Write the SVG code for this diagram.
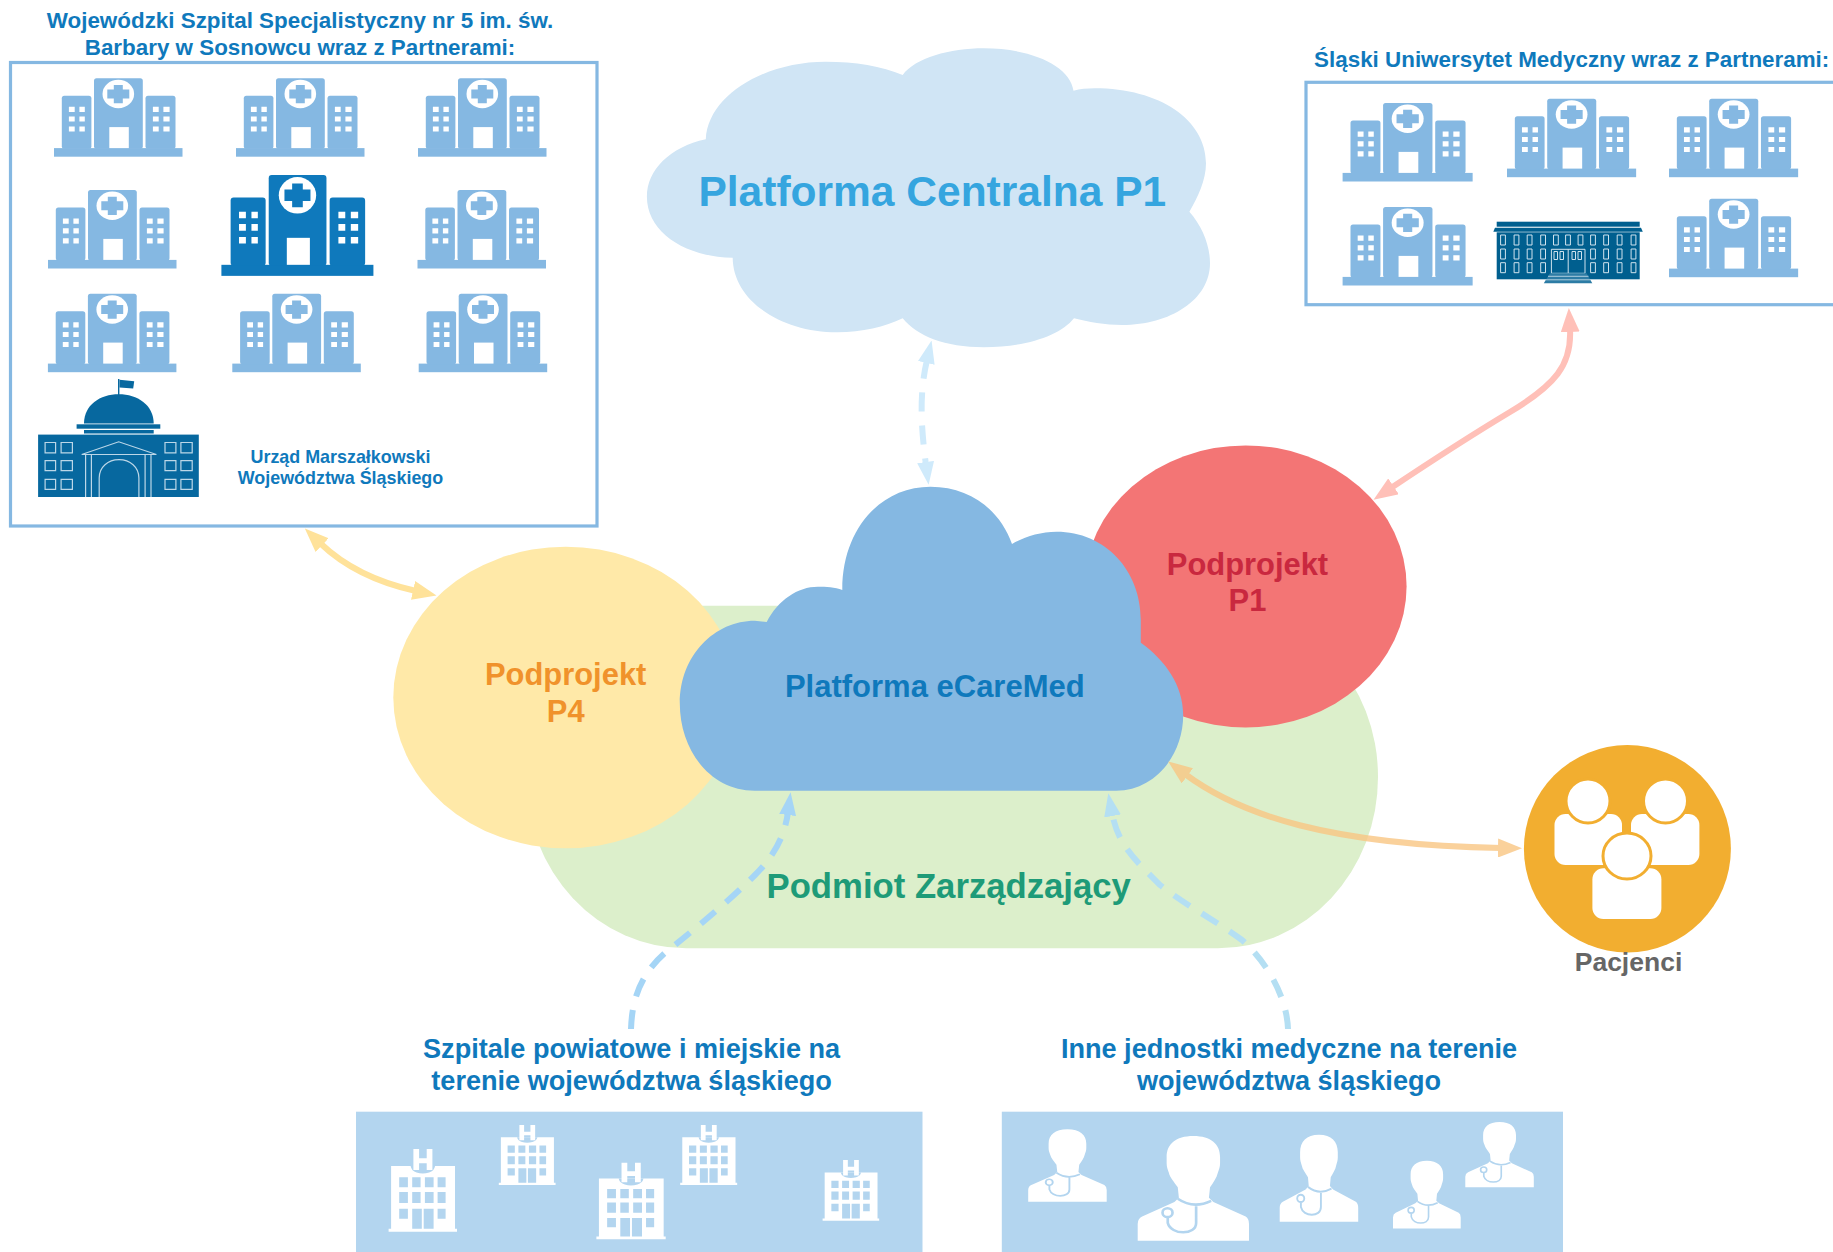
<svg xmlns="http://www.w3.org/2000/svg" width="1833" height="1252" viewBox="0 0 1833 1252">
<style>
text{font-family:"Liberation Sans",Arial,sans-serif;font-weight:700;text-anchor:middle}
.blue{fill:#0f79bc}
.t22{font-size:22.4px}
.t27{font-size:27.1px}
.t30{font-size:30.9px}
.light{color:#85b8e2}
.dark{color:#0f79bc}
.box{fill:#fff;stroke:#85b8e2;stroke-width:3.2}
.panel{fill:#b3d5ef}
.wh{fill:#fff}
.pw{fill:#b3d5ef}
.con{fill:none;stroke-width:6}
.dash{stroke-dasharray:19 14}
.steth{fill:none;stroke:#b3d5ef;stroke-width:2.4}
.trim{fill:none;stroke:#bcd7e8;stroke-width:1.2}
</style>
<defs>
<marker id="mY" markerUnits="userSpaceOnUse" viewBox="0 0 24 19" markerWidth="24" markerHeight="19" refX="3" refY="9.5" orient="auto-start-reverse"><path d="M0 0L24 9.5L0 19Z" fill="#ffe29a"/></marker>
<marker id="mP" markerUnits="userSpaceOnUse" viewBox="0 0 24 19" markerWidth="24" markerHeight="19" refX="3" refY="9.5" orient="auto-start-reverse"><path d="M0 0L24 9.5L0 19Z" fill="#ffc0b8"/></marker>
<marker id="mO" markerUnits="userSpaceOnUse" viewBox="0 0 24 19" markerWidth="24" markerHeight="19" refX="3" refY="9.5" orient="auto-start-reverse"><path d="M0 0L24 9.5L0 19Z" fill="#f9c683"/></marker>
<marker id="mT" markerUnits="userSpaceOnUse" viewBox="0 0 23 17" markerWidth="23" markerHeight="17" refX="3" refY="8.5" orient="auto-start-reverse"><path d="M0 0L23 8.5L0 17Z" fill="#cfeafb"/></marker>
<marker id="mL" markerUnits="userSpaceOnUse" viewBox="0 0 23 17" markerWidth="23" markerHeight="17" refX="3" refY="8.5" orient="auto-start-reverse"><path d="M0 0L23 8.5L0 17Z" fill="#a5d5f6"/></marker>
<marker id="mR" markerUnits="userSpaceOnUse" viewBox="0 0 23 17" markerWidth="23" markerHeight="17" refX="3" refY="8.5" orient="auto-start-reverse"><path d="M0 0L23 8.5L0 17Z" fill="#b4dff3"/></marker>
<g id="hospital">
<g fill="currentColor">
<rect x="0" y="69.9" width="128.5" height="8.6"/>
<rect x="7.8" y="17.6" width="29.6" height="53" rx="2.5"/>
<rect x="40" y="0" width="48.8" height="70.5" rx="2.5"/>
<rect x="91.5" y="17.6" width="30" height="53" rx="2.5"/>
</g>
<ellipse cx="64.3" cy="15.8" rx="15.8" ry="14.2" fill="#fff"/>
<path fill="currentColor" d="M59.8 6.7h9v4.600h6.500v9h-6.500v4.800h-9v-4.800h-6.500v-9h6.500z"/>
<rect x="55.3" y="48.9" width="19.5" height="21" fill="#fff"/>
<path fill="#fff" d="M14.9 28.6h5.8v5.1h-5.8zM25.4 28.6h5.4v5.1h-5.4zM14.9 38.2h5.8v5.2h-5.8zM25.4 38.2h5.4v5.2h-5.4zM14.9 48.2h5.8v5.2h-5.8zM25.4 48.2h5.4v5.2h-5.4zM98.9 28.6h5.8v5.1h-5.8zM109.4 28.6h6.2v5.1h-6.2zM98.9 38.2h5.8v5.2h-5.8zM109.4 38.2h6.2v5.2h-6.2zM98.9 48.2h5.8v5.2h-5.8zM109.4 48.2h6.2v5.2h-6.2z"/>
</g>
<g id="hblock">
<path class="wh" d="M0 79.700h2.500V17H66.400v62.700h2v3H0z"/>
<path class="pw" d="M22 17Q23 22 28 23.500Q34 25.500 40.500 23.500Q45.500 22 46.500 17Z"/>
<path class="wh" d="M24.800 0h5.700v9.300h7.600V0h5.700v21h-5.700v-6.700h-7.600V21h-5.700z"/>
<path class="pw" d="M10.600 28.300h8.700v10h-8.700zM23.600 28.300h8.400v10h-8.400zM36.300 28.300h8.700v10h-8.700zM49 28.300h8v10h-8zM10.600 43h8.700v11h-8.700zM23.600 43h8.400v11h-8.400zM36.300 43h8.700v11h-8.700zM49 43h8v11h-8zM10.600 59.700h8.700v10h-8.700zM49 59.700h8v10h-8zM23.600 59.700h9.600v20h-9.600zM35.100 59.700h9.900v20h-9.900z"/>
</g>
<g id="doctor">
<path class="wh" d="M50 0C66 0 74 8 74 20L74 26C74 30 73 32 72 35C71 40 68 44 65 49L64 59L68 63L97 77Q100 79 100 84L100 100L0 100L0 84Q0 79 4 77L33 63L37 59L36 49C33 44 29 40 28 35C27 32 26 30 26 26L26 20C26 8 34 0 50 0Z"/>
<path class="steth" d="M36 60Q50 70 66 62M52.500 67L52.500 83C52.500 95 30 95 27 83L27 78"/>
<ellipse class="steth" cx="26.800" cy="73.200" rx="4.500" ry="4.200"/>
</g>
</defs>

<rect x="0" y="0" width="1833" height="1252" fill="#fff"/>

<g id="podmiot-zarzadzajacy">
<rect x="526" y="605.700" width="852" height="342.600" rx="160" ry="171" fill="#dcefcb"/>
<text x="948.700" y="897.500" font-size="34.700" fill="#1e9b78">Podmiot Zarządzający</text>
</g>

<g id="podprojekt-p4">
<ellipse cx="565.700" cy="697.500" rx="172.400" ry="150.800" fill="#ffe9a8"/>
<text x="565.700" y="685" class="t30" fill="#f0922b">Podprojekt</text>
<text x="565.700" y="722" class="t30" fill="#f0922b">P4</text>
</g>

<g id="podprojekt-p1">
<ellipse cx="1245.600" cy="586.400" rx="161" ry="141" fill="#f37575"/>
<text x="1247.500" y="574.500" class="t30" fill="#c9283f">Podprojekt</text>
<text x="1247.500" y="611" class="t30" fill="#c9283f">P1</text>
</g>

<g id="platforma-ecaremed">
<path fill="#85b8e2" d="M754.700 790.700C710 790.700 679.800 750 679.800 703.300C679.800 655 715 620.700 754.700 620.700L766.700 622C778 600 798 586.700 817.800 586.700C826 586.700 835 587 842.300 590C842 530 880 486.700 930.500 486.700C970 486.700 1000 510 1012 544C1024 537 1040 531.700 1056.500 531.700C1105 531.700 1140.800 570 1140.800 620L1140.800 642.700C1165 660 1183.200 685 1183.200 715C1183.200 755 1155 790.700 1116.200 790.700Z"/>
<text x="934.800" y="696.700" font-size="31" class="blue">Platforma eCareMed</text>
</g>

<g id="platforma-centralna">
<path fill="#d0e5f5" d="M705.800 139.300C708 95 765 61.700 825.600 61.700C855 61.700 882 66 902.700 75C915 58 950 48.300 983.800 48.300C1030 48.300 1070 65 1073.500 90.700C1080 89 1087 88.300 1094.500 88.300C1160 88.300 1206 120 1206 163.300C1206 180 1198 197 1189.400 211.700C1202 226 1210 245 1210 263.300C1210 300 1170 325 1122.200 325C1105 325 1088 322 1074 318.300C1060 336 1025 347.300 983.800 347.300C945 347.300 917 336 902.700 318.300C885 327 862 332.300 837.500 332.300C780 332.300 733 300 732.700 257.700C685 257 646.900 232 646.900 196.700C646.900 170 670 147 705.800 139.300Z"/>
<text x="932.300" y="205.500" font-size="42.500" fill="#35a5df">Platforma Centralna P1</text>
</g>

<g id="wojewodzki-szpital">
<text x="300" y="28.200" class="blue t22">Wojewódzki Szpital Specjalistyczny nr 5 im. św.</text>
<text x="300" y="55" class="blue t22">Barbary w Sosnowcu wraz z Partnerami:</text>
<rect class="box" x="10.500" y="62.500" width="586.500" height="463.500"/>
<use href="#hospital" class="light" x="54" y="78.200"/>
<use href="#hospital" class="light" x="236" y="78.200"/>
<use href="#hospital" class="light" x="418" y="78.200"/>
<use href="#hospital" class="light" x="48" y="190"/>
<use href="#hospital" class="dark" transform="translate(221.400 175) scale(1.183 1.285)"/>
<use href="#hospital" class="light" x="417.500" y="190"/>
<use href="#hospital" class="light" x="47.900" y="293.700"/>
<use href="#hospital" class="light" x="232.300" y="293.700"/>
<use href="#hospital" class="light" x="418.700" y="293.700"/>
<g id="urzad-icon">
<path fill="#07689f" d="M118 379h1.400v16h-1.400z"/>
<path fill="#07689f" d="M119.500 379.800l14.700 1.500-1 7.200-13.700-1z"/>
<path fill="#07689f" d="M84 423.600C84 405 100 394.300 118.700 394.300C137.500 394.300 153.700 405 153.700 423.600Z"/>
<rect x="76.600" y="424.300" width="83.700" height="4.400" fill="#07689f"/>
<rect x="84" y="430" width="69.700" height="3.500" fill="#07689f"/>
<rect x="38.100" y="434.600" width="160.700" height="62.400" fill="#07689f"/>
<path class="trim" d="M45.100 442.500h10.500v10.300h-10.500zM61.100 442.500h11.300v10.300h-11.300zM165 442.500h10.900v10.300h-10.900zM180.900 442.500h11.300v10.300h-11.300zM45.100 460.700h10.500v10h-10.500zM61.100 460.700h11.300v10h-11.300zM165 460.700h10.900v10h-10.900zM180.900 460.700h11.300v10h-11.300zM45.100 479.300h10.500v10h-10.500zM61.100 479.300h11.300v10h-11.300zM165 479.300h10.900v10h-10.900zM180.900 479.300h11.300v10h-11.300z"/>
<path class="trim" d="M81.700 454.500L118.700 441.800L156.400 454.500ZM85.600 455V497M91.400 455V497M145.100 455V497M151 455V497M99.200 497V478C99.200 467 108 459.700 119 459.700C130 459.700 138.900 467 138.900 478V497"/>
</g>
<text x="340.500" y="462.500" font-size="17.900" class="blue">Urząd Marszałkowski</text>
<text x="340.500" y="484" font-size="17.900" class="blue">Województwa Śląskiego</text>
</g>

<g id="slaski-uniwersytet">
<text x="1571.700" y="66.700" class="blue t22">Śląski Uniwersytet Medyczny wraz z Partnerami:</text>
<rect class="box" x="1306" y="82.300" width="600" height="222.400"/>
<use href="#hospital" class="light" transform="translate(1342.600 103) scale(1.012 1)"/>
<use href="#hospital" class="light" transform="translate(1507 98.700) scale(1.005 1)"/>
<use href="#hospital" class="light" transform="translate(1669 98.700) scale(1.005 1)"/>
<use href="#hospital" class="light" transform="translate(1342.600 207) scale(1.012 1)"/>
<use href="#hospital" class="light" transform="translate(1669 198.700) scale(1.005 1)"/>
<g id="uniwersytet-icon">
<rect x="1496.700" y="221.700" width="143" height="5" fill="#005f8f"/>
<path d="M1495 227.700H1641L1642.800 231.700H1493.300Z" fill="#005f8f"/>
<rect x="1496.700" y="232.300" width="143" height="47" fill="#005f8f"/>
<path fill="none" stroke="#cfe3ee" stroke-width="1" d="M1500.600 235h4.800v10h-4.800zM1514.100 235h4.800v10h-4.800zM1527.200 235h4.800v10h-4.800zM1540.700 235h4.800v10h-4.800zM1553.500 235h4.800v10h-4.800zM1565.600 235h4.800v10h-4.800zM1578.100 235h4.800v10h-4.800zM1590.600 235h4.800v10h-4.800zM1603.700 235h4.800v10h-4.800zM1617.200 235h4.800v10h-4.800zM1631.100 235h4.800v10h-4.800zM1500.600 249h4.800v10h-4.800zM1514.100 249h4.800v10h-4.800zM1527.200 249h4.800v10h-4.800zM1540.700 249h4.800v10h-4.800zM1590.600 249h4.800v10h-4.800zM1603.700 249h4.800v10h-4.800zM1617.200 249h4.800v10h-4.800zM1631.100 249h4.800v10h-4.800zM1500.600 262.700h4.800v10h-4.800zM1514.100 262.700h4.800v10h-4.800zM1527.200 262.700h4.800v10h-4.800zM1540.700 262.700h4.800v10h-4.800zM1590.600 262.700h4.800v10h-4.800zM1603.700 262.700h4.800v10h-4.800zM1617.200 262.700h4.800v10h-4.800zM1631.100 262.700h4.800v10h-4.800zM1551.400 249.300h33.600v24h-33.600zM1568.200 249.300v24M1554 251.500h3.500v8h-3.500zM1560 251.500h3.500v8h-3.500zM1572 251.500h3.500v8h-3.500zM1578 251.500h3.500v8h-3.500z"/>
<path d="M1550 273.300H1586.500L1592.300 283.300H1543.800Z" fill="#2d7ca5"/>
<path d="M1548 276.300H1588.500M1546 279.800H1590.500" stroke="#cfe3ee" stroke-width=".8" fill="none"/>
</g>
</g>

<g id="pacjenci">
<ellipse cx="1627.400" cy="848.700" rx="103.500" ry="103.700" fill="#f2ae30"/>
<rect class="wh" x="1554.500" y="814" width="67.500" height="51" rx="11"/>
<rect class="wh" x="1631" y="814" width="68.400" height="51" rx="11"/>
<ellipse cx="1588" cy="801" rx="22" ry="22" fill="#fff" stroke="#f2ae30" stroke-width="3"/>
<ellipse cx="1665.500" cy="801" rx="22" ry="22" fill="#fff" stroke="#f2ae30" stroke-width="3"/>
<path d="M1625.700 815h4v16h-4z" fill="#f2ae30"/>
<rect class="wh" x="1592.400" y="868.300" width="69" height="50.700" rx="11"/>
<ellipse cx="1627" cy="856" rx="24" ry="23" fill="#fff" stroke="#f2ae30" stroke-width="3"/>
<text x="1628.500" y="971" font-size="26.500" fill="#666">Pacjenci</text>
</g>

<g id="szpitale-powiatowe">
<text x="631.600" y="1057.500" class="blue t27">Szpitale powiatowe i miejskie na</text>
<text x="631.600" y="1090" class="blue t27">terenie województwa śląskiego</text>
<rect class="panel" x="356" y="1111.700" width="566.500" height="140.300"/>
<use href="#hblock" transform="translate(388.600 1149)"/>
<use href="#hblock" transform="translate(498.800 1125) scale(.83 .725)"/>
<use href="#hblock" transform="translate(596.400 1162.700) scale(1.013 .926)"/>
<use href="#hblock" transform="translate(680.200 1125) scale(.833 .725)"/>
<use href="#hblock" transform="translate(822.600 1160) scale(.827 .734)"/>
</g>

<g id="inne-jednostki">
<text x="1289" y="1057.500" class="blue t27">Inne jednostki medyczne na terenie</text>
<text x="1289" y="1090" class="blue t27">województwa śląskiego</text>
<rect class="panel" x="1001.800" y="1111.700" width="561.200" height="140.300"/>
<use href="#doctor" transform="translate(1028.200 1129.300) scale(.785 .724)"/>
<use href="#doctor" transform="translate(1137.700 1136) scale(1.113 1.047)"/>
<use href="#doctor" transform="translate(1279.700 1134.700) scale(.785 .87)"/>
<use href="#doctor" transform="translate(1393 1160.700) scale(.677 .677)"/>
<use href="#doctor" transform="translate(1465.300 1122) scale(.685 .653)"/>
</g>

<g id="connectors">
<path class="con" stroke="#ffe29a" marker-start="url(#mY)" marker-end="url(#mY)" d="M320 543C345 567 375 582 416 591"/>
<path class="con" stroke="#ffc0b8" marker-start="url(#mP)" marker-end="url(#mP)" d="M1570 329C1572 365 1555 385 1510 412C1480 430 1430 462 1391 488"/>
<path class="con" stroke="#f9c683" opacity=".8" marker-start="url(#mO)" marker-end="url(#mO)" d="M1185 774C1240 815 1330 845 1501 848"/>
<path class="con dash" stroke="#cfeafb" marker-start="url(#mT)" marker-end="url(#mT)" d="M927 360C920 390 920 420 926 465"/>
<path class="con dash" stroke="#a5d5f6" marker-end="url(#mL)" d="M631 1029C632 1000 640 975 665 953C700 925 730 900 755 875C775 855 785 835 788 812"/>
<path class="con dash" stroke="#b4dff3" marker-end="url(#mR)" d="M1288 1029C1287 1000 1270 965 1242 940C1215 920 1185 905 1160 885C1135 860 1118 845 1112 813"/>
</g>
</svg>
